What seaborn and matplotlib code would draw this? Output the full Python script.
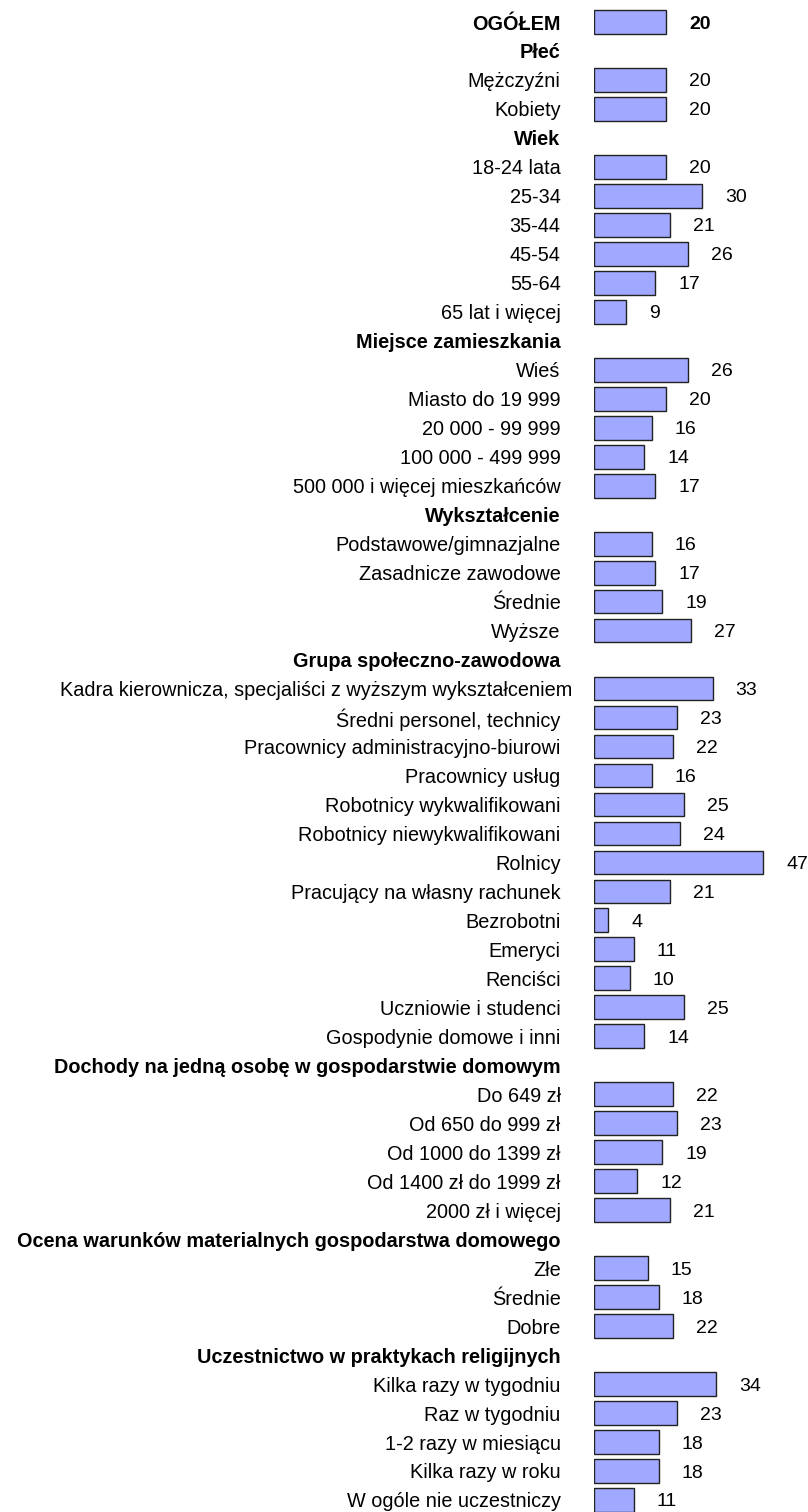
import pandas as pd
import matplotlib.pyplot as plt
import matplotlib.transforms as mtransforms
import seaborn as sns
import numpy as np

labels = [
    'OGÓŁEM', 'Płeć', 'Mężczyźni', 'Kobiety',
    'Wiek', '18-24 lata', '25-34', '35-44', '45-54', '55-64', '65 lat i więcej',
    'Miejsce zamieszkania', 'Wieś', 'Miasto do 19 999', '20 000 - 99 999',
    '100 000 - 499 999', '500 000 i więcej mieszkańców',
    'Wykształcenie', 'Podstawowe/gimnazjalne', 'Zasadnicze zawodowe', 'Średnie', 'Wyższe',
    'Grupa społeczno-zawodowa',
    'Kadra kierownicza, specjaliści z wyższym wykształceniem',
    'Średni personel, technicy', 'Pracownicy administracyjno-biurowi',
    'Pracownicy usług', 'Robotnicy wykwalifikowani', 'Robotnicy niewykwalifikowani',
    'Rolnicy', 'Pracujący na własny rachunek', 'Bezrobotni', 'Emeryci', 'Renciści',
    'Uczniowie i studenci', 'Gospodynie domowe i inni',
    'Dochody na jedną osobę w gospodarstwie domowym',
    'Do 649 zł', 'Od 650 do 999 zł', 'Od 1000 do 1399 zł', 'Od 1400 zł do 1999 zł',
    '2000 zł i więcej',
    'Ocena warunków materialnych gospodarstwa domowego', 'Złe', 'Średnie', 'Dobre',
    'Uczestnictwo w praktykach religijnych', 'Kilka razy w tygodniu', 'Raz w tygodniu',
    '1-2 razy w miesiącu', 'Kilka razy w roku', 'W ogóle nie uczestniczy',
]
values = [
    20, None, 20, 20,
    None, 20, 30, 21, 26, 17, 9,
    None, 26, 20, 16, 14, 17,
    None, 16, 17, 19, 27,
    None, 33, 23, 22, 16, 25, 24, 47, 21, 4, 11, 10, 25, 14,
    None, 22, 23, 19, 12, 21,
    None, 15, 18, 22,
    None, 34, 23, 18, 18, 11,
]
headers = [0, 1, 4, 11, 17, 22, 36, 42, 46]

df = pd.DataFrame({'row': np.arange(len(labels)), 'label': labels, 'value': values})
bars = df.dropna(subset=['value'])

sns.set_style('white')
plt.rcParams['font.family'] = ['Liberation Sans', 'DejaVu Sans']

fig = plt.figure(figsize=(8.08, 15.12), dpi=100)
ax = fig.add_axes([594 / 808, 0, 214 / 808, 1])

sns.barplot(data=bars, x='value', y='row', orient='h', native_scale=True,
            color='#A0A8FF', saturation=1, width=0.82,
            edgecolor='#222222', linewidth=1.0, ax=ax)

ax.set_xlim(0, 214 / 3.6)
ax.set_ylim((1512 - 22) / 28.98, -22 / 28.98)

ax.set_yticks(df['row'])
ax.set_yticklabels(labels, fontsize=14.3, color='black')
for i, t in enumerate(ax.get_yticklabels()):
    if i in headers:
        t.set_fontweight('bold')
ax.tick_params(axis='y', length=0, pad=24)
ax.set_xticks([])
ax.set_xlabel('')
ax.set_ylabel('')
for s in ax.spines.values():
    s.set_visible(False)

# the long "Kadra..." label sits a bit closer to the bars in the original
for t in ax.get_yticklabels():
    if t.get_text().startswith('Kadra'):
        t.set_transform(t.get_transform() + mtransforms.ScaledTranslation(12 / 100, 0, fig.dpi_scale_trans))

for _, r in bars.iterrows():
    ax.annotate(f"{int(r['value'])}", (r['value'], r['row']),
                xytext=(16.5, 0), textcoords='offset points',
                va='center_baseline', ha='left', fontsize=14, color='black',
                fontweight='bold' if r['row'] == 0 else 'normal')

fig.savefig('out.png', dpi=100)
